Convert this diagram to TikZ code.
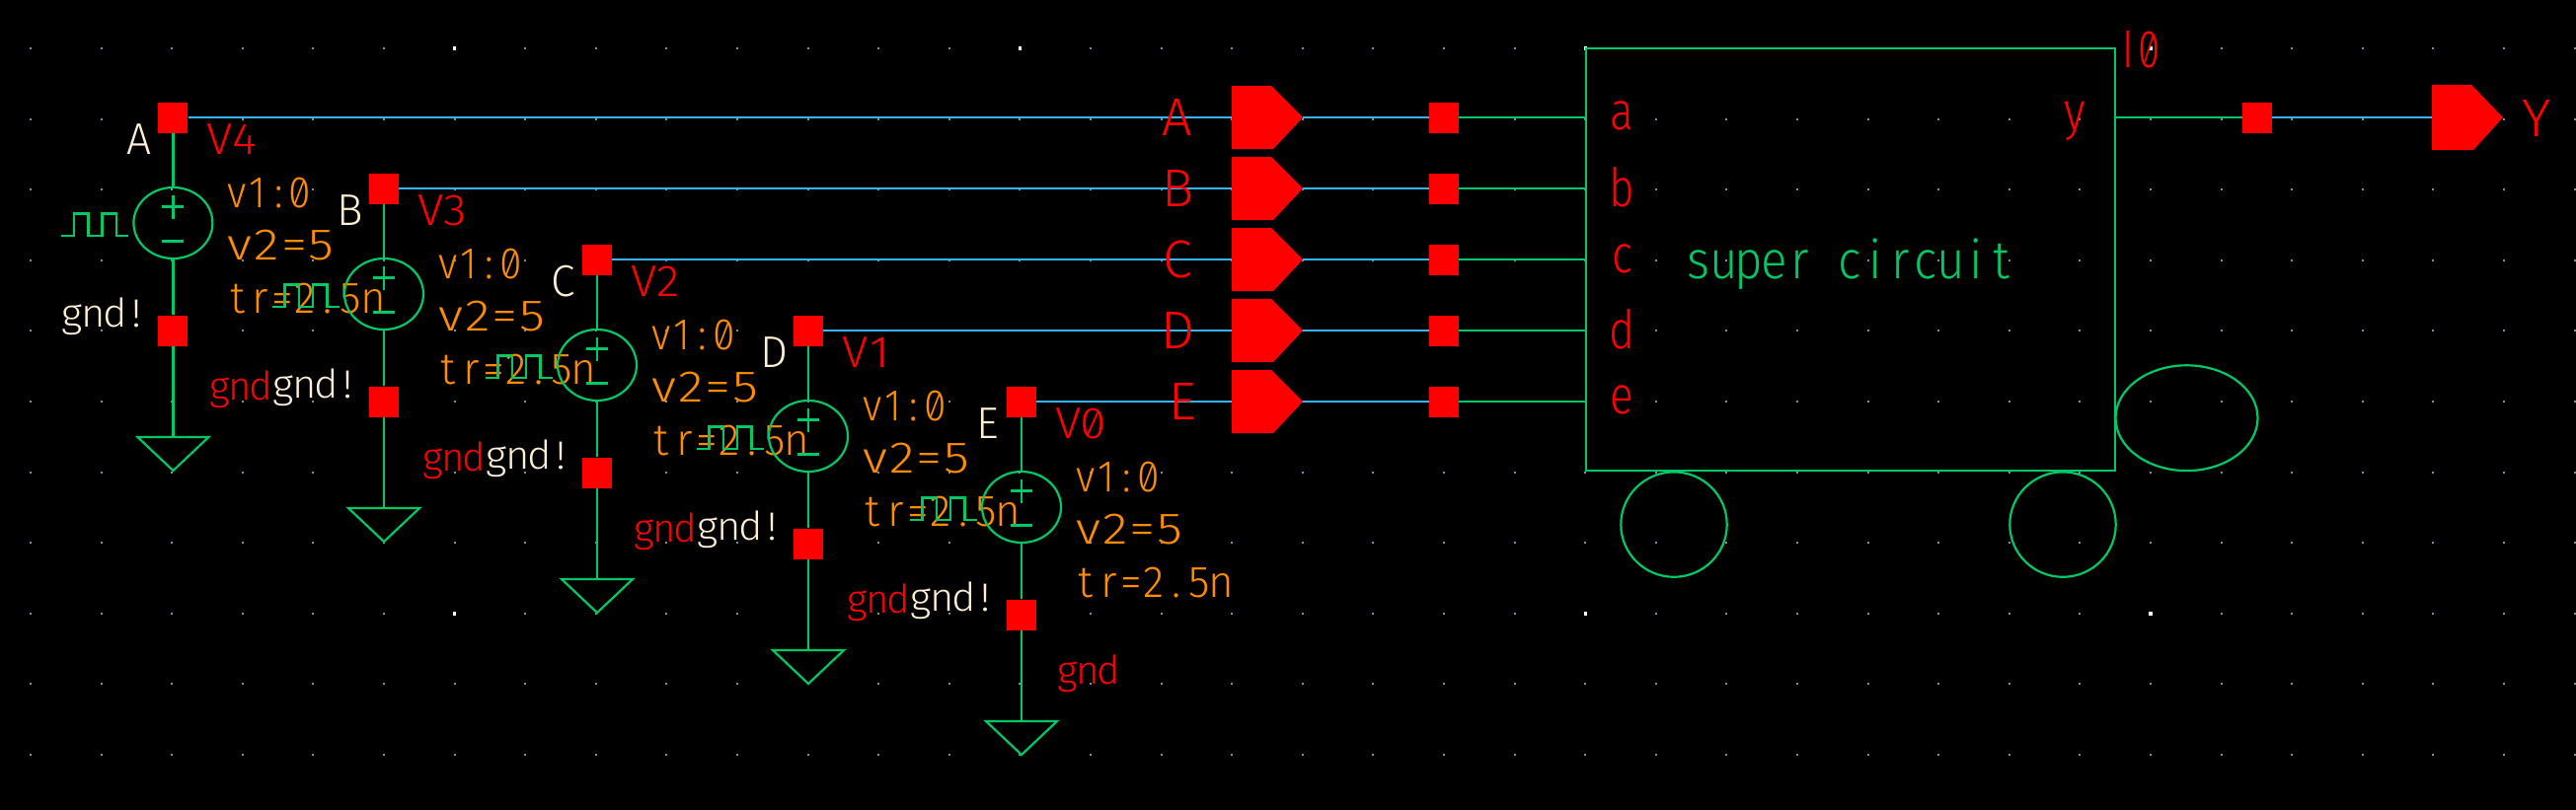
\documentclass[tikz,border=0pt]{standalone}
\usepackage{fontspec}
\usepackage{graphicx}
\usetikzlibrary{shapes.geometric}
\newfontfamily\labfont[Numbers=SlashedZero]{Fira Sans Light}
\makeatletter
\newcommand{\monoi}[1]{\@tfor\@ch:=#1\do{\makebox[0.52em][c]{\@ch}}}
\newcommand{\mono}[1]{\expandafter\monoi\expandafter{#1}}
\makeatother
\newcommand{\tw}[2]{\resizebox{#1pt}{\height}{\mono{#2}}}
\definecolor{cgreen}{RGB}{0,200,100}
\definecolor{cblue}{RGB}{51,181,255}
\definecolor{corange}{RGB}{255,140,0}
\definecolor{ccream}{RGB}{255,239,213}
\definecolor{cdot}{RGB}{136,136,165}
\tikzset{
  wire/.style={draw=cgreen,line width=2.6pt},
  bluewire/.style={draw=cblue,line width=2.6pt},
  thinsym/.style={draw=cgreen,line width=2.2pt},
  pinbox/.style={fill=red,draw=none,minimum width=30pt,minimum height=31pt,inner sep=0pt},
  srccirc/.style={ellipse,draw=cgreen,line width=2.2pt,minimum width=80pt,minimum height=72pt,inner sep=0pt},
  txt/.style={inner sep=0pt,outer sep=0pt,anchor=base west},
  big/.style={txt,font=\fontsize{54}{54}\selectfont\labfont},
  mid/.style={txt,font=\fontsize{45}{45}\selectfont\labfont},
  small/.style={txt,font=\fontsize{40}{40}\selectfont\labfont},
  plug/.style={fill=red,draw=none},
}
\begin{document}
\begin{tikzpicture}[x=1pt,y=-1pt]
\useasboundingbox (0,0) rectangle (2610,820);
\fill[black] (-6,-6) rectangle (2616,826);
% grid
\foreach \gx in {0,...,36}{\foreach \gy in {0,...,10}{
  \fill[cdot] ({31+71.6*\gx-1},{49+71.6*\gy-1}) rectangle ++(2,2);
}}
\foreach \gx in {6,14,22,30}{\foreach \gy in {0,8}{
  \fill[white] ({31+71.6*\gx-1.7},{49+71.6*\gy-1.7}) rectangle ++(3.4,3.4);
}}
% port pins, connectors and block
\draw[wire] (1607,49) rectangle (2143,477);
\foreach \n/\wy in {A/119,B/191,C/263,D/335,E/407}{
  \node[pinbox] (port\n) at (1463,\wy) {};
  \coordinate (plugin\n) at (1248,\wy);
  \coordinate (plugout\n) at (1320,\wy);
  \coordinate (blockin\n) at (1607,\wy);
  \draw[bluewire] (plugout\n) -- (port\n);
  \draw[wire] (port\n) -- (blockin\n);
}
% columns: wires
\foreach \n/\x/\wy in {A/175.4/119,B/389/191,C/605/263,D/819/335,E/1035/407}{
  \node[pinbox] (top\n) at (\x,\wy) {};
  \draw[bluewire] (top\n) -- (plugin\n);
}
% texts
\foreach \n/\x/\wy/\pv in {A/175.4/119/V4,B/389/191/V3,C/605/263/V2,D/819/335/V1,E/1035/407/V0}{
  \node[mid,text=ccream] (lab\n) at (\x-46,\wy+37) {\tw{23}{\n}};
  \node[mid,text=red] (name\n) at (\x+35,\wy+37) {\tw{50}{\pv}};
  \node[mid,text=corange] (vone\n) at (\x+54,\wy+91) {\tw{85}{v1:0}};
  \node[mid,text=corange] (vtwo\n) at (\x+54,\wy+144) {\tw{110}{v2=5}};
  \node[mid,text=corange] (tr\n) at (\x+54,\wy+198) {\tw{160}{tr=2.5n}};
  \node[small,text=ccream] (gnde\n) at (\x-113,\wy+212) {\tw{87}{gnd!}};
}
\foreach \n/\x/\wy in {B/389/191,C/605/263,D/819/335,E/1035/407}{
  \node[small,text=red] (rgnd\n) at (\x-177,\wy+214) {\tw{63}{gnd}};
}
\node[small,text=red] (rgndlast) at (1071,693) {\tw{63}{gnd}};
% connector labels and pin names
\foreach \n/\lx/\wy/\bx/\pn/\py in {A/1179/137/1632/a/131,B/1180/209/1632/b/209,C/1179/281/1632/c/276,D/1180/353/1632/d/353,E/1184/425/1632/e/419}{
  \node[big,text=red] (conn\n) at (\lx,\wy) {\tw{28}{\n}};
  \node[big,text=red] (pname\n) at (\bx,\py) {\tw{23}{\pn}};
}
\node[big,text=cgreen] (title) at (1708,282) {\tw{333}{super{\ }circuit}};
\node[big,text=red] (pny) at (2090,131) {\tw{24}{y}};
\node[big,text=red] (inst) at (2146,68) {\tw{42}{I0}};
\node[big,text=red] (outname) at (2556,138) {\tw{29}{Y}};
% plugs
\foreach \n/\wy in {A/119,B/191,C/263,D/335,E/407}{
  \fill[plug] (1248,\wy-32) -- (1288,\wy-32) -- (1320,\wy) -- (1290,\wy+32) -- (1248,\wy+32) -- cycle;
}
% source symbols
\foreach \n/\x/\wy in {A/175.4/119,B/389/191,C/605/263,D/819/335,E/1035/407}{
  \node[pinbox] (bot\n) at (\x,\wy+216) {};
  \node[srccirc] (src\n) at (\x,\wy+107) {};
  \coordinate (gt\n) at (\x,\wy+324);
  \draw[wire] (top\n) -- (src\n);
  \draw[wire] (src\n) -- (bot\n);
  \draw[wire] (bot\n) -- (gt\n);
  \draw[thinsym] (\x-36,\wy+324) -- (\x+36,\wy+324) -- (\x,\wy+358) -- cycle;
  \draw[wire] (\x-11,\wy+90.5) -- (\x+11,\wy+90.5);
  \draw[wire] (\x,\wy+79) -- (\x,\wy+103);
  \draw[wire] (\x-11,\wy+125.5) -- (\x+11,\wy+125.5);
  \draw[wire] (\x-113,\wy+120) -- (\x-100.5,\wy+120) -- (\x-100.5,\wy+97.7) -- (\x-86,\wy+97.7) -- (\x-86,\wy+120) -- (\x-72,\wy+120) -- (\x-72,\wy+97.7) -- (\x-57.5,\wy+97.7) -- (\x-57.5,\wy+120) -- (\x-45,\wy+120);
}
% output
\node[pinbox] (outpin) at (2287,119) {};
\coordinate (blockout) at (2143,119);
\coordinate (outplug) at (2464,119);
\draw[wire] (blockout) -- (outpin);
\draw[bluewire] (outpin) -- (outplug);
\fill[plug] (2464,86) -- (2504,86) -- (2536,119) -- (2506,152) -- (2464,152) -- cycle;
% block decorations
\draw[thinsym] (2215.5,423.7) ellipse [x radius=72,y radius=53.4];
\draw[thinsym] (2090,531.6) ellipse [x radius=53.7,y radius=53.2];
\draw[thinsym] (1696,531.6) ellipse [x radius=53.7,y radius=53.2];
\end{tikzpicture}
\end{document}
